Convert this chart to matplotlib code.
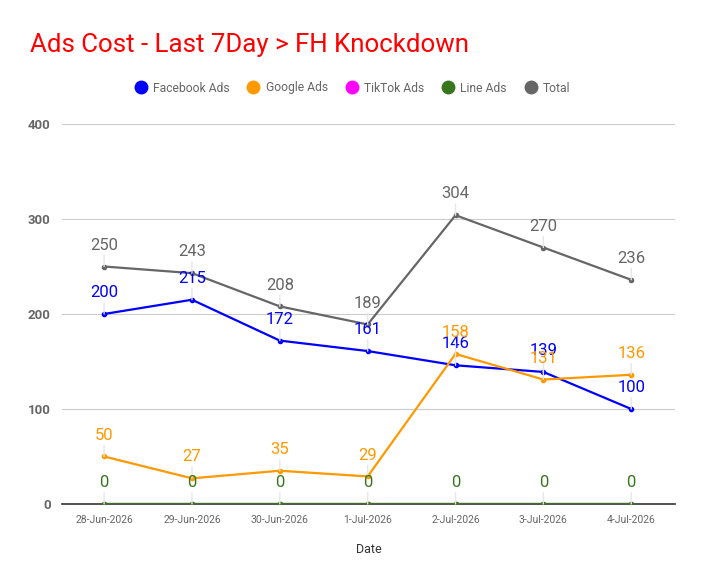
import matplotlib
matplotlib.use("Agg")
import matplotlib.pyplot as plt
from matplotlib.lines import Line2D

plt.rcParams["font.family"] = ["Roboto", "DejaVu Sans"]

dates = ["28-Jun-2026", "29-Jun-2026", "30-Jun-2026", "1-Jul-2026",
         "2-Jul-2026", "3-Jul-2026", "4-Jul-2026"]
facebook = [200, 215, 172, 161, 146, 139, 100]
google = [50, 27, 35, 29, 158, 131, 136]
tiktok = [0, 0, 0, 0, 0, 0, 0]
line_ads = [0, 0, 0, 0, 0, 0, 0]
total = [250, 243, 208, 189, 304, 270, 236]

series = [
    ("Facebook Ads", facebook, "#0000ff"),
    ("Google Ads", google, "#ff9900"),
    ("TikTok Ads", tiktok, "#ff00ff"),
    ("Line Ads", line_ads, "#38761d"),
    ("Total", total, "#666666"),
]

fig = plt.figure(figsize=(7.04, 5.85), dpi=100)
ax = fig.add_axes([0.088, 0.1385, 0.871, 0.6495])
x = list(range(len(dates)))

for i, (name, vals, c) in enumerate(series):
    ax.plot(x, vals, color=c, lw=1.6, marker="o", ms=3, zorder=3 + i)
    if name == "TikTok Ads":
        # hidden under the Line Ads zero labels
        continue
    for xi, v in zip(x, vals):
        ax.annotate(str(v), (xi, v), xytext=(0, 10), textcoords="offset points",
                    ha="center", va="bottom", color=c, fontsize=12, zorder=10 + i,
                    arrowprops=dict(arrowstyle="-", color="#e6e6e6", lw=1,
                                    shrinkA=0, shrinkB=0))

ax.set_xlim(-0.48, 6.5)
ax.set_ylim(0, 400)
ax.set_yticks([0, 100, 200, 300, 400])
ax.set_xticks(x)
ax.set_xticklabels(dates)
ax.grid(axis="y", color="#cccccc", lw=0.8)
ax.set_axisbelow(True)
for s in ("top", "right", "left"):
    ax.spines[s].set_visible(False)
ax.spines["bottom"].set_color("#333333")
ax.spines["bottom"].set_linewidth(1.2)
ax.spines["bottom"].set_zorder(2)
ax.tick_params(axis="y", length=0, pad=8, labelsize=9.5, labelcolor="#666666")
for t in ax.get_yticklabels():
    t.set_fontweight("bold")
ax.tick_params(axis="x", length=0, pad=8, labelsize=7.5, labelcolor="#666666")
ax.set_xlabel("Date", fontsize=9, color="#333333", labelpad=13)

fig.text(30 / 704, 1 - 45 / 585, "Ads Cost - Last 7Day > FH Knockdown",
         color="#ff0000", fontsize=18.6, va="center", ha="left")

handles = [Line2D([], [], marker="o", ls="", color=c, ms=9) for _, _, c in series]
fig.legend(handles, [n for n, _, _ in series], loc="center",
           bbox_to_anchor=(0.5, 1 - 88 / 585), ncol=5, frameon=False,
           fontsize=8.7, labelcolor="#666666", handletextpad=0.4,
           columnspacing=1.4, handlelength=1.2)

fig.savefig("out.png", dpi=100)
